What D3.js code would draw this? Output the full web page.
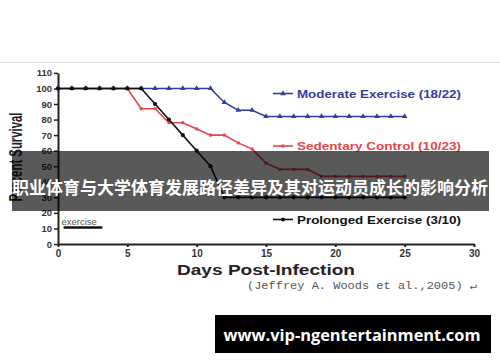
<!DOCTYPE html>
<html>
<head>
<meta charset="utf-8">
<script src="https://cdn.jsdelivr.net/npm/d3@7"></script>
<style>
  html, body { margin: 0; padding: 0; background: #fff; }
  svg { display: block; }
</style>
</head>
<body>
<svg id="chart"></svg>
<script>
// Canvas size
const width = 500;
const height = 362;

// Days post-infection (x categories)
const days = [0, 1, 2, 3, 4, 5, 6, 7, 8, 9, 10, 11, 12, 13, 14, 15, 16, 17, 18, 19, 20, 21, 22, 23, 24, 25];

// Percent survival for each group
const moderateValues  = [100, 100, 100, 100, 100, 100, 100, 100, 100, 100, 100, 100, 91, 86, 86, 82, 82, 82, 82, 82, 82, 82, 82, 82, 82, 82];
const sedentaryValues = [100, 100, 100, 100, 100, 100, 87, 87, 78, 78, 74, 70, 70, 65, 61, 52, 48, 48, 48, 43.5, 43.5, 43.5, 43.5, 43.5, 43.5, 43.5];
const prolongedValues = [100, 100, 100, 100, 100, 100, 100, 90, 80, 70, 60, 50, 30, 30, 30, 30, 30, 30, 30, 30, 30, 30, 30, 30, 30, 30];

const seriesNames = ["Moderate Exercise (18/22)", "Sedentary Control (10/23)", "Prolonged Exercise (3/10)"];

// Axis ticks
const yTicks = [0, 10, 20, 30, 40, 50, 60, 70, 80, 90, 100, 110];
const xTicks = [0, 5, 10, 15, 20, 25, 30];

// Exercise period bar (days) at 10%
const exerciseStart = 0.4;
const exerciseEnd = 3.2;
const exerciseLevel = 10;

const titleText = "职业体育与大学体育发展路径差异及其对运动员成长的影响分析";
const siteText = "www.vip-ngentertainment.com";
const citeText = "(Jeffrey A. Woods et al.,2005) ↵";

const latin = "'Liberation Sans', Arial, sans-serif";

const svg = d3.select("#chart")
    .attr("width", width)
    .attr("height", height)
    .attr("viewBox", `0 0 ${width} ${height}`);

svg.append("rect").attr("width", width).attr("height", height).attr("fill", "#fff");

// thin separator line near the top
svg.append("line")
    .attr("x1", 0).attr("x2", width)
    .attr("y1", 62.5).attr("y2", 62.5)
    .attr("stroke", "#dcdcdc").attr("stroke-width", 1);

// Scales
const x = d3.scaleLinear().domain([0, 30]).range([58, 474]);
const y = d3.scaleLinear().domain([0, 110]).range([244, 72.9]);

// Y axis
const yAxis = svg.append("g")
    .attr("transform", `translate(${x(0)},0)`)
    .call(d3.axisLeft(y).tickValues(yTicks).tickSize(4).tickPadding(2).tickSizeOuter(0));
yAxis.select(".domain").attr("stroke", "#222").attr("stroke-width", 2);
yAxis.selectAll(".tick line").attr("stroke", "#222").attr("stroke-width", 1.5);
yAxis.selectAll(".tick text")
    .attr("font-family", latin).attr("font-weight", "bold")
    .attr("font-size", 9.5).attr("fill", "#333");

// X axis
const xAxis = svg.append("g")
    .attr("transform", `translate(0,${y(0)})`)
    .call(d3.axisBottom(x).tickValues(xTicks).tickSize(3).tickPadding(3).tickSizeOuter(0));
xAxis.select(".domain").attr("stroke", "#222").attr("stroke-width", 2);
xAxis.selectAll(".tick line").attr("stroke", "#222").attr("stroke-width", 2);
xAxis.selectAll(".tick text")
    .attr("font-family", latin).attr("font-weight", "bold")
    .attr("font-size", 10).attr("fill", "#333");

// Axis titles
svg.append("text")
    .attr("transform", `translate(22,157) rotate(-90)`)
    .attr("text-anchor", "middle")
    .attr("font-family", latin).attr("font-weight", "bold")
    .attr("font-size", 18).attr("fill", "#222")
    .attr("textLength", 89).attr("lengthAdjust", "spacingAndGlyphs")
    .text("Percent Survival");

svg.append("text")
    .attr("x", 266).attr("y", 275)
    .attr("text-anchor", "middle")
    .attr("font-family", latin).attr("font-weight", "bold")
    .attr("font-size", 14.5).attr("fill", "#222")
    .attr("textLength", 178).attr("lengthAdjust", "spacingAndGlyphs")
    .text("Days Post-Infection");

// Exercise bar and label
svg.append("line")
    .attr("x1", x(exerciseStart)).attr("x2", x(exerciseEnd))
    .attr("y1", y(exerciseLevel) - 1).attr("y2", y(exerciseLevel) - 1)
    .attr("stroke", "#111").attr("stroke-width", 2.5);
svg.append("text")
    .attr("x", x(exerciseStart) - 2).attr("y", y(exerciseLevel) - 3.5)
    .attr("font-family", latin).attr("font-size", 9.5).attr("fill", "#555")
    .text("exercise");

// Series definitions
const series = [
    { name: seriesNames[0], values: moderateValues, color: "#363c9c", marker: d3.symbolTriangle, size: 14, legendY: 93.5 },
    { name: seriesNames[1], values: sedentaryValues, color: "#e8454a", marker: d3.symbolSquare, size: 9, legendY: 146 },
    { name: seriesNames[2], values: prolongedValues, color: "#111111", marker: d3.symbolCircle, size: 14, legendY: 219.5 }
];

const line = d3.line()
    .x(d => x(d.day))
    .y(d => y(d.value));

series.forEach(s => {
    const pts = days.map((d, i) => ({ day: d, value: s.values[i] }));
    const g = svg.append("g");
    g.append("path")
        .datum(pts)
        .attr("fill", "none")
        .attr("stroke", s.color)
        .attr("stroke-width", 1.6)
        .attr("d", line);
    g.selectAll("path.mark")
        .data(pts)
        .enter().append("path")
        .attr("class", "mark")
        .attr("transform", d => `translate(${x(d.day)},${y(d.value)})`)
        .attr("d", d3.symbol().type(s.marker).size(s.size))
        .attr("fill", s.color);

    // legend entry
    const lg = svg.append("g").attr("transform", `translate(0,${s.legendY})`);
    lg.append("line")
        .attr("x1", 273).attr("x2", 293)
        .attr("stroke", s.color).attr("stroke-width", 1.6);
    lg.append("path")
        .attr("transform", "translate(283,0)")
        .attr("d", d3.symbol().type(s.marker).size(s.size))
        .attr("fill", s.color);
    lg.append("text")
        .attr("x", 297).attr("y", 0)
        .attr("dominant-baseline", "central")
        .attr("font-family", latin).attr("font-weight", "bold")
        .attr("font-size", 11).attr("fill", s.color)
        .attr("textLength", 164).attr("lengthAdjust", "spacingAndGlyphs")
        .text(s.name);
});

// citation
svg.append("text")
    .attr("x", 247).attr("y", 289)
    .attr("font-family", "'Liberation Mono', 'DejaVu Sans Mono', monospace")
    .attr("font-size", 10.5).attr("fill", "#555")
    .attr("textLength", 230).attr("lengthAdjust", "spacingAndGlyphs")
    .text(citeText);

// overlay banner
svg.append("rect")
    .attr("x", 12).attr("y", 151)
    .attr("width", 477).attr("height", 60)
    .attr("fill", "#000").attr("fill-opacity", 0.65);
svg.append("text")
    .attr("x", 250).attr("y", 186)
    .attr("text-anchor", "middle")
    .attr("dominant-baseline", "central")
    .attr("font-family", "'Noto Sans CJK SC', sans-serif")
    .attr("font-weight", "bold")
    .attr("font-size", 17).attr("fill", "#fff")
    .attr("textLength", 476).attr("lengthAdjust", "spacingAndGlyphs")
    .text(titleText);

// site watermark
svg.append("rect")
    .attr("x", 215).attr("y", 315)
    .attr("width", 276).attr("height", 38)
    .attr("fill", "#000");
svg.append("text")
    .attr("x", 352).attr("y", 335)
    .attr("text-anchor", "middle")
    .attr("dominant-baseline", "central")
    .attr("font-family", "'Open Sans', 'Noto Sans', sans-serif")
    .attr("font-weight", "bold")
    .attr("font-size", 16).attr("fill", "#fff")
    .attr("textLength", 257).attr("lengthAdjust", "spacingAndGlyphs")
    .text(siteText);
</script>
</body>
</html>
